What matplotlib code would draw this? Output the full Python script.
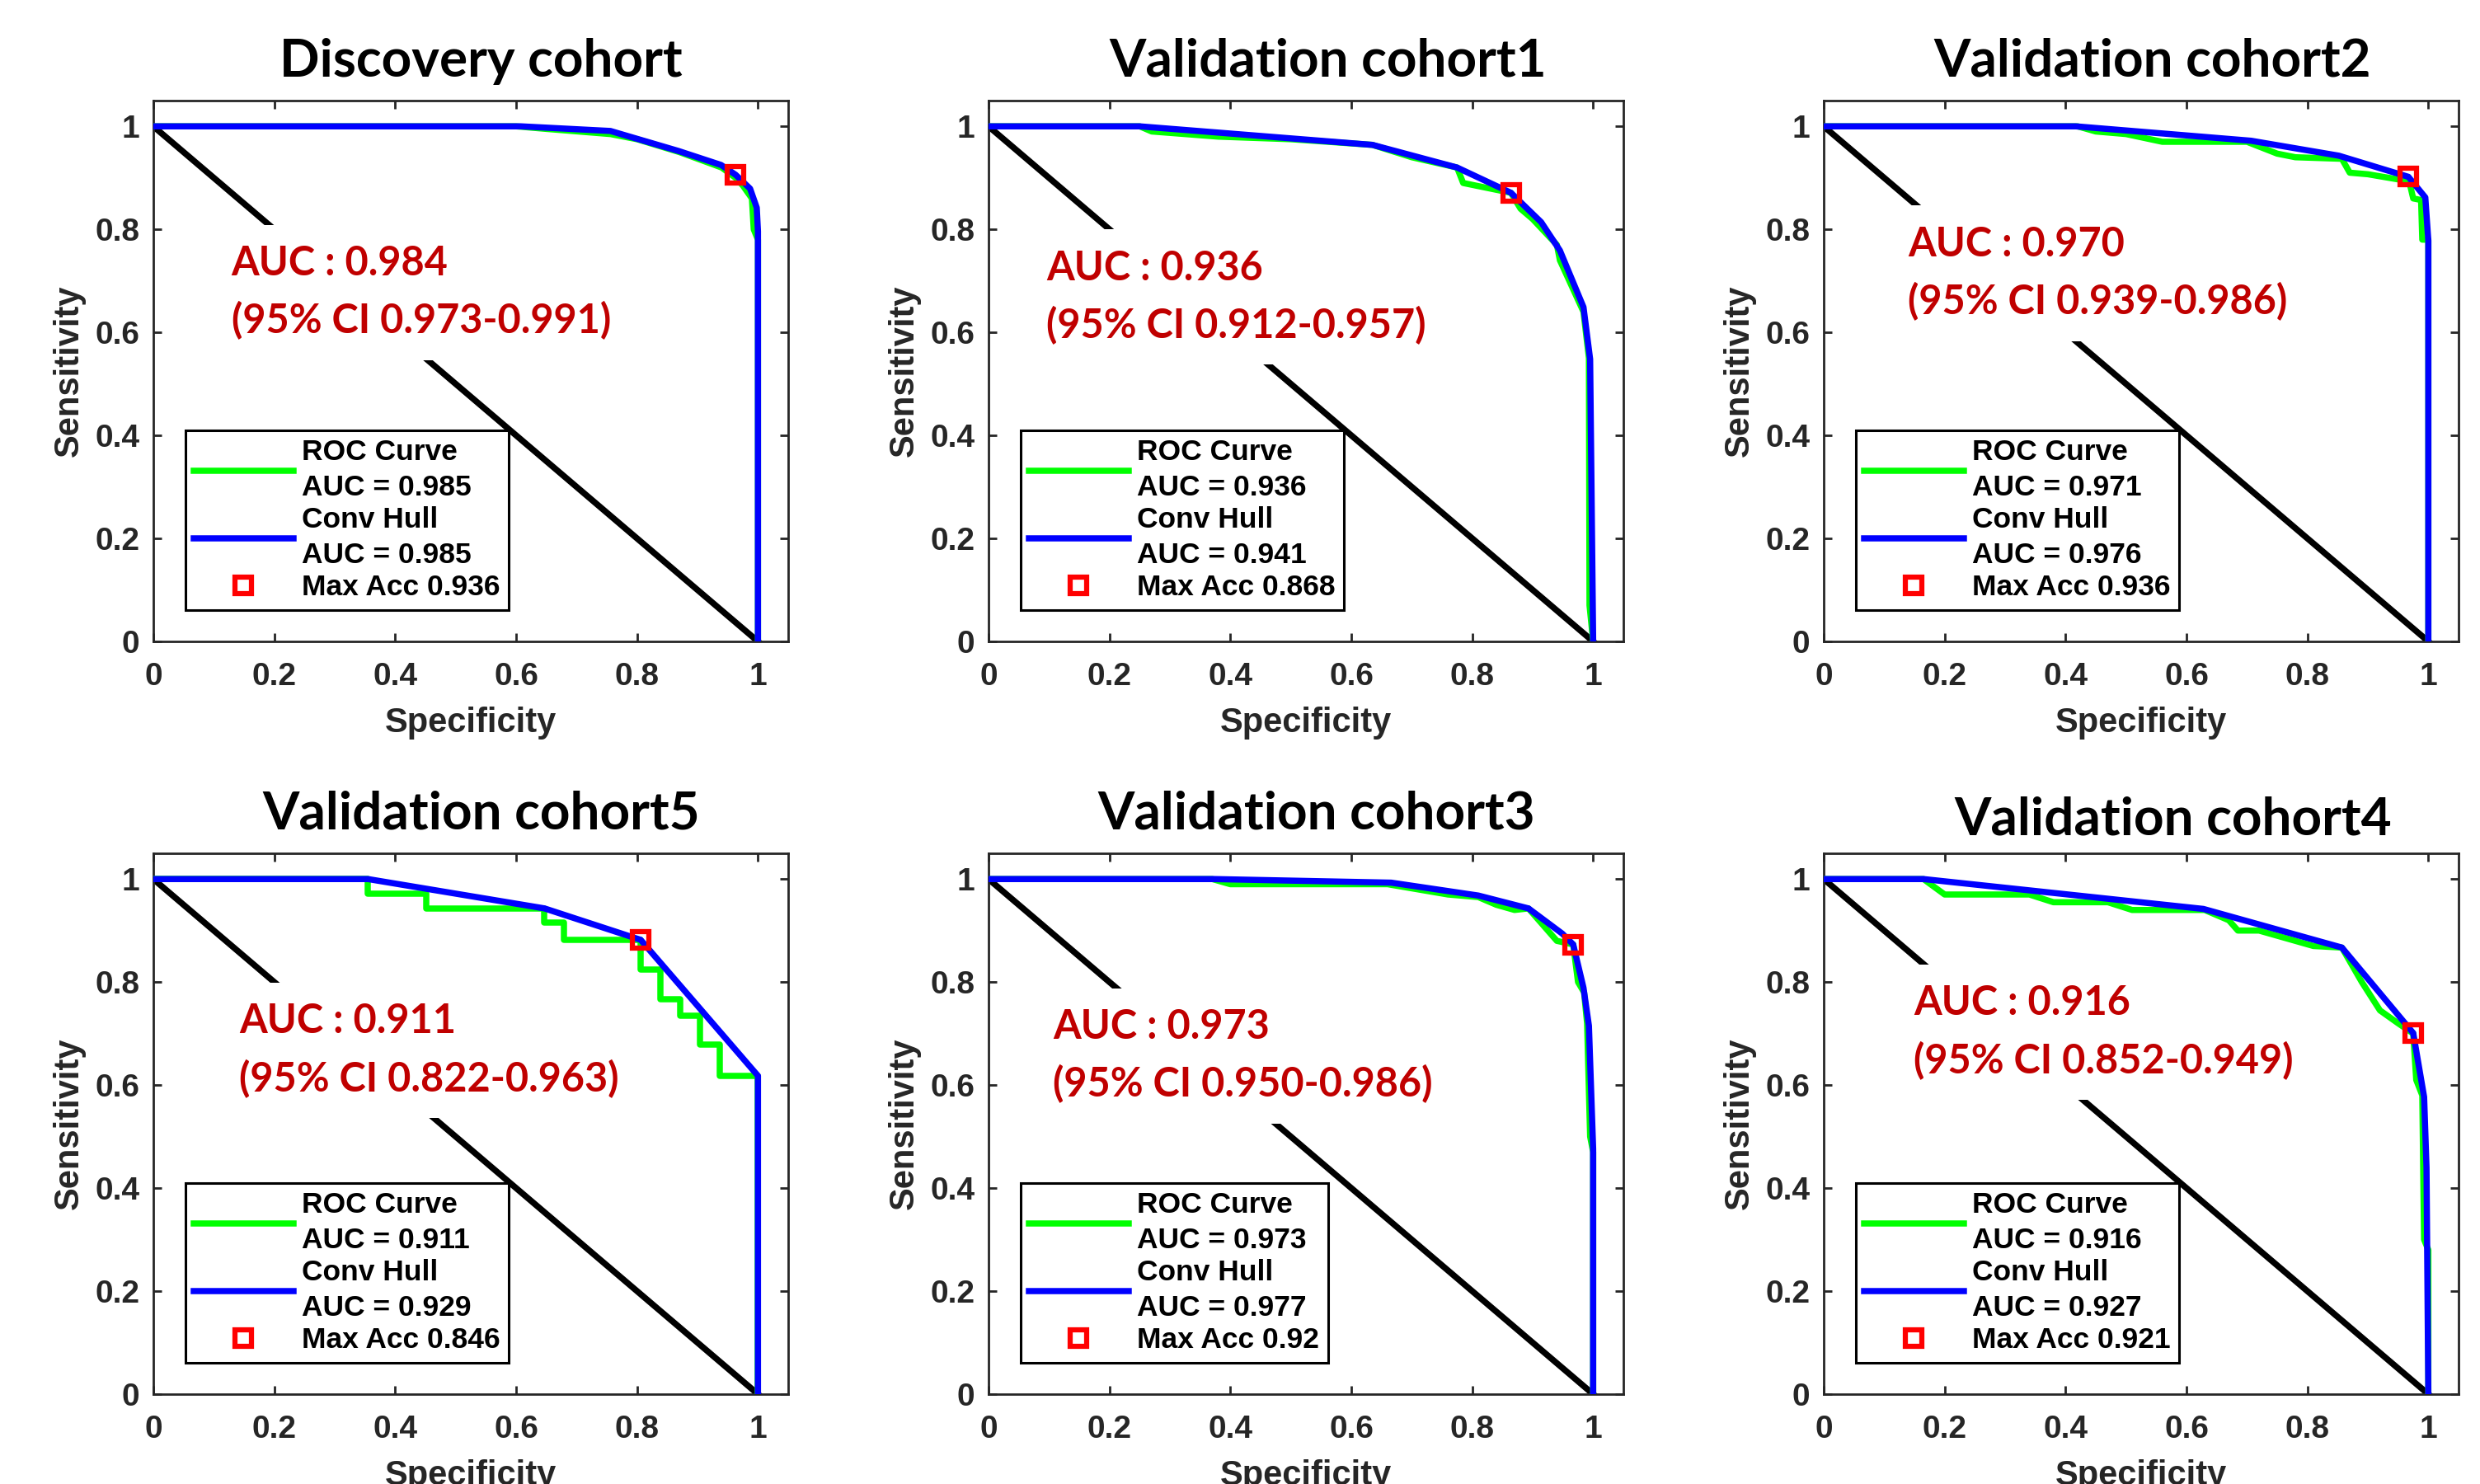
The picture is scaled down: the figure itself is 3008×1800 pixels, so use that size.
import matplotlib

matplotlib.use("Agg")

import matplotlib.pyplot as plt

# Textos de cada painel, na ordem em que aparecem (linha de cima, depois linha de baixo)
titulos = [
    "Discovery cohort",
    "Validation cohort1",
    "Validation cohort2",
    "Validation cohort5",
    "Validation cohort3",
    "Validation cohort4",
]
auc_anotacao = ["0.984", "0.936", "0.970", "0.911", "0.973", "0.916"]
ic_anotacao = ["0.973-0.991", "0.912-0.957", "0.939-0.986", "0.822-0.963", "0.950-0.986", "0.852-0.949"]
auc_roc = ["0.985", "0.936", "0.971", "0.911", "0.973", "0.916"]
auc_hull = ["0.985", "0.941", "0.976", "0.929", "0.977", "0.927"]
max_acc = ["0.936", "0.868", "0.936", "0.846", "0.92", "0.921"]

# Curvas ROC (verde)
roc_x_discovery = [0, 0.60, 0.65, 0.756, 0.80, 0.87, 0.94, 0.963, 0.975, 0.99, 0.993, 1.0, 1.0]
roc_y_discovery = [1, 1, 0.995, 0.985, 0.975, 0.95, 0.92, 0.90, 0.885, 0.86, 0.80, 0.78, 0]
roc_x_val1 = [0, 0.25, 0.27, 0.38, 0.50, 0.635, 0.70, 0.775, 0.785, 0.864, 0.88, 0.90, 0.94, 0.945, 0.984, 0.993, 0.994, 1.0]
roc_y_val1 = [1, 1, 0.99, 0.98, 0.975, 0.964, 0.94, 0.92, 0.89, 0.871, 0.84, 0.82, 0.77, 0.74, 0.64, 0.55, 0.07, 0]
roc_x_val2 = [0, 0.42, 0.45, 0.50, 0.56, 0.70, 0.75, 0.78, 0.857, 0.87, 0.90, 0.96, 0.967, 0.975, 0.988, 0.99, 1.0, 1.0]
roc_y_val2 = [1, 1, 0.99, 0.985, 0.97, 0.97, 0.947, 0.94, 0.937, 0.91, 0.907, 0.895, 0.90, 0.86, 0.857, 0.78, 0.78, 0]
roc_x_val5 = [0, 0.355, 0.355, 0.451, 0.451, 0.647, 0.647, 0.679, 0.679, 0.806, 0.806, 0.839, 0.839, 0.871, 0.871, 0.904, 0.904, 0.937, 0.937, 1.0, 1.0]
roc_y_val5 = [1, 1, 0.972, 0.972, 0.943, 0.943, 0.915, 0.915, 0.882, 0.882, 0.825, 0.825, 0.766, 0.766, 0.735, 0.735, 0.678, 0.678, 0.618, 0.618, 0]
roc_x_val3 = [0, 0.37, 0.40, 0.66, 0.76, 0.81, 0.84, 0.87, 0.893, 0.94, 0.967, 0.975, 0.985, 0.99, 0.995, 1.0, 1.0]
roc_y_val3 = [1, 1, 0.99, 0.99, 0.97, 0.965, 0.95, 0.94, 0.943, 0.88, 0.873, 0.80, 0.78, 0.72, 0.50, 0.47, 0]
roc_x_val4 = [0, 0.165, 0.20, 0.34, 0.38, 0.47, 0.51, 0.63, 0.67, 0.685, 0.72, 0.81, 0.857, 0.89, 0.92, 0.95, 0.975, 0.98, 0.99, 0.993, 1.0, 1.0]
roc_y_val4 = [1, 1, 0.97, 0.97, 0.955, 0.955, 0.94, 0.94, 0.92, 0.90, 0.90, 0.87, 0.867, 0.80, 0.745, 0.72, 0.70, 0.61, 0.58, 0.30, 0.28, 0]

# Envoltoria convexa (azul)
hull_x_discovery = [0, 0.608, 0.756, 0.869, 0.939, 0.963, 0.987, 0.998, 1.0, 1.0]
hull_y_discovery = [1, 1, 0.991, 0.952, 0.925, 0.906, 0.879, 0.842, 0.796, 0]
hull_x_val1 = [0, 0.25, 0.635, 0.775, 0.864, 0.914, 0.945, 0.984, 0.995, 1.0]
hull_y_val1 = [1, 1, 0.964, 0.92, 0.871, 0.814, 0.759, 0.649, 0.548, 0]
hull_x_val2 = [0, 0.417, 0.707, 0.852, 0.967, 0.995, 1.0, 1.0]
hull_y_val2 = [1, 1, 0.972, 0.943, 0.902, 0.862, 0.778, 0]
hull_x_val5 = [0, 0.355, 0.647, 0.806, 1.0, 1.0]
hull_y_val5 = [1, 1, 0.943, 0.882, 0.618, 0]
hull_x_val3 = [0, 0.373, 0.666, 0.81, 0.893, 0.949, 0.967, 0.984, 0.993, 1.0, 1.0]
hull_y_val3 = [1, 1, 0.993, 0.968, 0.943, 0.894, 0.873, 0.789, 0.715, 0.476, 0]
hull_x_val4 = [0, 0.165, 0.628, 0.857, 0.975, 0.993, 0.997, 1.0]
hull_y_val4 = [1, 1, 0.942, 0.867, 0.701, 0.577, 0.44, 0]

# Ponto de acuracia maxima (quadrado vermelho)
max_acc_x = [0.963, 0.864, 0.967, 0.806, 0.967, 0.975]
max_acc_y = [0.906, 0.871, 0.902, 0.882, 0.873, 0.701]

diagonal_x = [0, 1]
diagonal_y = [1, 0]

ticks = [0, 0.2, 0.4, 0.6, 0.8, 1]
tick_labels = ["0", "0.2", "0.4", "0.6", "0.8", "1"]

curvas_roc = [
    (roc_x_discovery, roc_y_discovery),
    (roc_x_val1, roc_y_val1),
    (roc_x_val2, roc_y_val2),
    (roc_x_val5, roc_y_val5),
    (roc_x_val3, roc_y_val3),
    (roc_x_val4, roc_y_val4),
]
curvas_hull = [
    (hull_x_discovery, hull_y_discovery),
    (hull_x_val1, hull_y_val1),
    (hull_x_val2, hull_y_val2),
    (hull_x_val5, hull_y_val5),
    (hull_x_val3, hull_y_val3),
    (hull_x_val4, hull_y_val4),
]

# Layout (pixels da figura 3008x1800 e posicoes dos textos)
LARGURA, ALTURA = 3008, 1800
colunas_px = [186, 1199, 2212]
linhas_px = [122, 1035]
eixo_w_px, eixo_h_px = 770, 656
titulo_x = [0.516, 0.535, 0.518, 0.516, 0.516, 0.55]
titulo_pad = [21, 21, 21, 21, 21, 16]
# a ancora do texto fica na linha de base da segunda linha
anot_x = [0.129, 0.096, 0.139, 0.142, 0.107, 0.149]
anot_y = [0.598, 0.589, 0.635, 0.588, 0.577, 0.623]

COR_EIXO = "#262626"
COR_ANOT = "#C00000"

plt.rcParams["font.family"] = ["Liberation Sans", "DejaVu Sans"]
plt.rcParams["font.weight"] = "bold"
plt.rcParams["axes.labelweight"] = "bold"


def desenhar_painel(fig, i):
    col = i % 3
    lin = i // 3
    esquerda = colunas_px[col] / LARGURA
    base = 1 - (linhas_px[lin] + eixo_h_px) / ALTURA
    ax = fig.add_axes([esquerda, base, eixo_w_px / LARGURA, eixo_h_px / ALTURA])

    ax.plot(diagonal_x, diagonal_y, color="black", linewidth=5.4, zorder=2)

    rx, ry = curvas_roc[i]
    hx, hy = curvas_hull[i]
    linha_roc, = ax.plot(rx, ry, color="#00FF00", linewidth=5.4, zorder=4)
    linha_hull, = ax.plot(hx, hy, color="#0000FF", linewidth=5.4, zorder=5)
    ponto, = ax.plot(
        [max_acc_x[i]], [max_acc_y[i]],
        linestyle="none", marker="s", markersize=15,
        markerfacecolor="none", markeredgecolor="#FF0000", markeredgewidth=4.5,
        zorder=6,
    )

    ax.text(
        anot_x[i], anot_y[i],
        f"AUC : {auc_anotacao[i]}\n(95% CI {ic_anotacao[i]})",
        ha="left", va="baseline",
        fontsize=35, family="Lato", fontweight="bold", color=COR_ANOT,
        linespacing=1.6,
        bbox=dict(boxstyle="square,pad=0.5", facecolor="white", edgecolor="none"),
        zorder=3,
    )

    ax.set_xlim(0, 1.05)
    ax.set_ylim(0, 1.05)
    ax.set_xticks(ticks)
    ax.set_yticks(ticks)
    ax.set_xticklabels(tick_labels)
    ax.set_yticklabels(tick_labels)
    ax.tick_params(direction="in", top=True, right=True, length=7, width=2,
                   labelsize=28, colors=COR_EIXO)
    ax.tick_params(axis="x", pad=18)
    ax.tick_params(axis="y", pad=12)
    for spine in ax.spines.values():
        spine.set_linewidth(2)
        spine.set_color(COR_EIXO)

    ax.set_xlabel("Specificity", fontsize=30, fontweight="bold", color=COR_EIXO, labelpad=13)
    ax.set_ylabel("Sensitivity", fontsize=30, fontweight="bold", color=COR_EIXO, labelpad=8)
    ax.set_title(titulos[i], fontsize=46, family="Lato", fontweight="bold",
                 x=titulo_x[i], pad=titulo_pad[i])

    leg = ax.legend(
        [linha_roc, linha_hull, ponto],
        [f"ROC Curve\nAUC = {auc_roc[i]}", f"Conv Hull\nAUC = {auc_hull[i]}", f"Max Acc {max_acc[i]}"],
        loc="lower left", bbox_to_anchor=(0.05, 0.058), borderaxespad=0,
        fontsize=25.5, fancybox=False, framealpha=1, edgecolor="black",
        handlelength=3.4, handletextpad=0.3, labelspacing=0.18, borderpad=0.3,
        numpoints=1,
    )
    leg.get_frame().set_linewidth(2.2)
    for t in leg.get_texts():
        t.set_linespacing(1.37)
        t.set_color("black")


fig = plt.figure(figsize=(LARGURA / 100, ALTURA / 100), dpi=100)
for i in range(len(titulos)):
    desenhar_painel(fig, i)

fig.savefig("out.png", dpi=100, facecolor="white")
